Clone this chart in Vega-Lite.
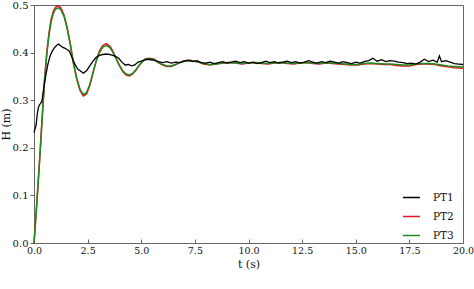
{
  "$schema": "https://vega.github.io/schema/vega-lite/v6.json",
  "autosize": "none",
  "width": 429,
  "height": 238,
  "padding": {"left": 34, "top": 5, "right": 11, "bottom": 46},
  "config": {
    "view": {"stroke": "#666666", "strokeWidth": 1},
    "font": "DejaVu Serif",
    "axis": {"labelFont": "DejaVu Serif", "titleFont": "DejaVu Serif", "labelFontSize": 10, "titleFontSize": 11, "titleFontWeight": "normal", "labelColor": "#111111", "titleColor": "#111111", "domainColor": "#666666", "tickColor": "#666666", "grid": false},
    "legend": {"labelFont": "DejaVu Serif", "labelFontSize": 10.5, "labelColor": "#111111"}
  },
  "datasets": {
    "pt1": [
      {"t":0,"h":0.232},{"t":0.05,"h":0.24},{"t":0.1,"h":0.248},{"t":0.15,"h":0.27},{"t":0.2,"h":0.284},{"t":0.25,"h":0.29},{"t":0.3,"h":0.293},{"t":0.37,"h":0.298},{"t":0.45,"h":0.325},{"t":0.55,"h":0.352},{"t":0.65,"h":0.376},{"t":0.75,"h":0.393},{"t":0.85,"h":0.403},{"t":0.95,"h":0.41},{"t":1.05,"h":0.415},{"t":1.15,"h":0.418},{"t":1.25,"h":0.414},{"t":1.35,"h":0.411},{"t":1.45,"h":0.409},{"t":1.55,"h":0.406},{"t":1.65,"h":0.403},{"t":1.75,"h":0.392},{"t":1.85,"h":0.381},{"t":1.95,"h":0.372},{"t":2.05,"h":0.365},{"t":2.15,"h":0.362},{"t":2.3,"h":0.357},{"t":2.45,"h":0.362},{"t":2.6,"h":0.372},{"t":2.75,"h":0.382},{"t":2.9,"h":0.39},{"t":3.05,"h":0.394},{"t":3.2,"h":0.396},{"t":3.4,"h":0.397},{"t":3.6,"h":0.395},{"t":3.8,"h":0.392},{"t":3.95,"h":0.388},{"t":4.1,"h":0.38},{"t":4.25,"h":0.374},{"t":4.4,"h":0.375},{"t":4.55,"h":0.372},{"t":4.7,"h":0.374},{"t":4.85,"h":0.38},{"t":5.0,"h":0.382},{"t":5.15,"h":0.384},{"t":5.3,"h":0.386},{"t":5.45,"h":0.385},{"t":5.6,"h":0.384},{"t":5.8,"h":0.381},
      {"t":6.0,"h":0.379},{"t":6.2,"h":0.381},{"t":6.4,"h":0.378},{"t":6.6,"h":0.38},{"t":6.8,"h":0.379},{"t":7.0,"h":0.382},{"t":7.2,"h":0.384},{"t":7.4,"h":0.381},{"t":7.6,"h":0.383},{"t":7.8,"h":0.379},{"t":8.0,"h":0.378},{"t":8.2,"h":0.38},{"t":8.4,"h":0.377},{"t":8.6,"h":0.379},{"t":8.8,"h":0.381},{"t":9.0,"h":0.378},{"t":9.2,"h":0.38},{"t":9.4,"h":0.382},{"t":9.6,"h":0.379},{"t":9.8,"h":0.381},{"t":10.0,"h":0.378},{"t":10.2,"h":0.38},{"t":10.4,"h":0.377},{"t":10.6,"h":0.379},{"t":10.8,"h":0.382},{"t":11.0,"h":0.379},{"t":11.2,"h":0.381},{"t":11.4,"h":0.378},{"t":11.6,"h":0.38},{"t":11.8,"h":0.382},{"t":12.0,"h":0.379},{"t":12.2,"h":0.381},{"t":12.4,"h":0.378},{"t":12.6,"h":0.38},{"t":12.8,"h":0.383},{"t":13.0,"h":0.38},{"t":13.2,"h":0.378},{"t":13.4,"h":0.381},{"t":13.6,"h":0.379},{"t":13.8,"h":0.382},{"t":14.0,"h":0.38},{"t":14.2,"h":0.378},{"t":14.4,"h":0.381},{"t":14.6,"h":0.379},{"t":14.8,"h":0.377},{"t":15.0,"h":0.38},{"t":15.2,"h":0.378},{"t":15.4,"h":0.381},{"t":15.6,"h":0.383},{"t":15.8,"h":0.388},{"t":16.0,"h":0.382},{"t":16.2,"h":0.385},{"t":16.4,"h":0.381},{"t":16.6,"h":0.383},{"t":16.8,"h":0.382},{"t":17.0,"h":0.38},{"t":17.2,"h":0.379},{"t":17.4,"h":0.377},{"t":17.6,"h":0.378},{"t":17.8,"h":0.376},{"t":18.0,"h":0.38},{"t":18.2,"h":0.386},{"t":18.4,"h":0.381},{"t":18.6,"h":0.384},{"t":18.8,"h":0.38},{"t":18.9,"h":0.393},{"t":19.0,"h":0.381},{"t":19.2,"h":0.383},{"t":19.4,"h":0.38},{"t":19.6,"h":0.377},{"t":19.8,"h":0.376},{"t":20.0,"h":0.375}
    ],
    "pt23": [
      {"t":0,"PT2":0,"PT3":0},{"t":0.1,"PT2":0.063,"PT3":0.062},{"t":0.2,"PT2":0.132,"PT3":0.13},{"t":0.3,"PT2":0.203,"PT3":0.2},{"t":0.4,"PT2":0.279,"PT3":0.275},{"t":0.5,"PT2":0.349,"PT3":0.345},{"t":0.6,"PT2":0.402,"PT3":0.398},{"t":0.7,"PT2":0.442,"PT3":0.437},{"t":0.8,"PT2":0.47,"PT3":0.465},{"t":0.9,"PT2":0.487,"PT3":0.482},{"t":1.0,"PT2":0.495,"PT3":0.491},{"t":1.13,"PT2":0.498,"PT3":0.494},{"t":1.25,"PT2":0.494,"PT3":0.49},{"t":1.4,"PT2":0.479,"PT3":0.476},{"t":1.55,"PT2":0.452,"PT3":0.45},{"t":1.7,"PT2":0.416,"PT3":0.415},{"t":1.85,"PT2":0.375,"PT3":0.375},{"t":2.0,"PT2":0.343,"PT3":0.345},{"t":2.15,"PT2":0.32,"PT3":0.322},{"t":2.3,"PT2":0.309,"PT3":0.312},{"t":2.45,"PT2":0.313,"PT3":0.316},{"t":2.6,"PT2":0.331,"PT3":0.333},{"t":2.75,"PT2":0.357,"PT3":0.358},{"t":2.9,"PT2":0.383,"PT3":0.382},{"t":3.05,"PT2":0.403,"PT3":0.4},{"t":3.2,"PT2":0.415,"PT3":0.411},{"t":3.37,"PT2":0.419,"PT3":0.415},{"t":3.55,"PT2":0.413,"PT3":0.41},{"t":3.7,"PT2":0.401,"PT3":0.399},{"t":3.85,"PT2":0.386,"PT3":0.385},{"t":4.0,"PT2":0.371,"PT3":0.372},{"t":4.15,"PT2":0.359,"PT3":0.361},{"t":4.3,"PT2":0.353,"PT3":0.355},{"t":4.45,"PT2":0.351,"PT3":0.353},{"t":4.6,"PT2":0.355,"PT3":0.356},{"t":4.75,"PT2":0.363,"PT3":0.364},{"t":4.9,"PT2":0.373,"PT3":0.373},{"t":5.05,"PT2":0.382,"PT3":0.381},{"t":5.2,"PT2":0.387,"PT3":0.386},{"t":5.4,"PT2":0.388,"PT3":0.387},{"t":5.6,"PT2":0.386,"PT3":0.385},{"t":5.8,"PT2":0.379,"PT3":0.379},{"t":6.0,"PT2":0.374,"PT3":0.375},{"t":6.2,"PT2":0.371,"PT3":0.372},{"t":6.4,"PT2":0.371,"PT3":0.372},{"t":6.6,"PT2":0.375,"PT3":0.375},{"t":6.8,"PT2":0.379,"PT3":0.379},{"t":7.0,"PT2":0.383,"PT3":0.382},{"t":7.3,"PT2":0.384,"PT3":0.383},{"t":7.6,"PT2":0.381,"PT3":0.381},{"t":7.9,"PT2":0.376,"PT3":0.377},{"t":8.2,"PT2":0.374,"PT3":0.375},{"t":8.5,"PT2":0.376,"PT3":0.376},{"t":8.8,"PT2":0.378,"PT3":0.378},{"t":9.1,"PT2":0.379,"PT3":0.379},{"t":9.4,"PT2":0.378,"PT3":0.378},{"t":9.7,"PT2":0.376,"PT3":0.377},{"t":10.0,"PT2":0.378,"PT3":0.378},{"t":10.3,"PT2":0.379,"PT3":0.379},{"t":10.6,"PT2":0.377,"PT3":0.378},{"t":10.9,"PT2":0.376,"PT3":0.377},{"t":11.2,"PT2":0.378,"PT3":0.378},{"t":11.5,"PT2":0.379,"PT3":0.379},{"t":11.8,"PT2":0.377,"PT3":0.378},{"t":12.1,"PT2":0.376,"PT3":0.377},{"t":12.4,"PT2":0.378,"PT3":0.378},{"t":12.7,"PT2":0.379,"PT3":0.379},{"t":13.0,"PT2":0.377,"PT3":0.378},{"t":13.3,"PT2":0.376,"PT3":0.377},{"t":13.6,"PT2":0.378,"PT3":0.378},{"t":13.9,"PT2":0.377,"PT3":0.378},{"t":14.2,"PT2":0.376,"PT3":0.377},{"t":14.5,"PT2":0.375,"PT3":0.376},{"t":14.8,"PT2":0.374,"PT3":0.375},{"t":15.1,"PT2":0.374,"PT3":0.375},{"t":15.4,"PT2":0.376,"PT3":0.377},{"t":15.7,"PT2":0.377,"PT3":0.378},{"t":16.0,"PT2":0.376,"PT3":0.377},{"t":16.3,"PT2":0.375,"PT3":0.376},{"t":16.6,"PT2":0.375,"PT3":0.376},{"t":16.9,"PT2":0.373,"PT3":0.375},{"t":17.2,"PT2":0.372,"PT3":0.374},{"t":17.5,"PT2":0.372,"PT3":0.374},{"t":17.8,"PT2":0.375,"PT3":0.376},{"t":18.1,"PT2":0.376,"PT3":0.377},{"t":18.4,"PT2":0.376,"PT3":0.377},{"t":18.7,"PT2":0.375,"PT3":0.376},{"t":19.0,"PT2":0.372,"PT3":0.374},{"t":19.3,"PT2":0.37,"PT3":0.372},{"t":19.6,"PT2":0.368,"PT3":0.371},{"t":20.0,"PT2":0.367,"PT3":0.37}
    ]
  },
  "encoding": {
    "x": {"field": "t", "type": "quantitative", "scale": {"domain": [0, 20], "nice": false},
      "axis": {"title": "t (s)", "values": [0, 2.5, 5, 7.5, 10, 12.5, 15, 17.5, 20], "format": ".1f", "tickSize": -4, "labelPadding": 6, "titlePadding": 4, "labelFlush": false, "labelFontSize": 9.5}},
    "y": {"field": "h", "type": "quantitative", "scale": {"domain": [0, 0.5], "nice": false},
      "axis": {"title": "H (m)", "values": [0, 0.1, 0.2, 0.3, 0.4, 0.5], "format": ".1f", "tickSize": 4, "labelPadding": 2, "titlePadding": 1, "labelFlush": false}},
    "color": {"field": "s", "type": "nominal",
      "scale": {"domain": ["PT1", "PT2", "PT3"], "range": ["#000000", "#e8141e", "#1f8a1f"]},
      "legend": {"title": null, "orient": "none", "legendX": 368, "legendY": 183, "symbolType": "stroke", "symbolSize": 289, "symbolStrokeWidth": 1.5, "rowPadding": 4, "labelOffset": 12, "padding": 0}}
  },
  "layer": [
    {
      "data": {"name": "pt23"},
      "transform": [{"fold": ["PT2", "PT3"], "as": ["s", "h"]}],
      "mark": {"type": "line", "strokeWidth": 1.5}
    },
    {
      "data": {"name": "pt1"},
      "transform": [{"calculate": "'PT1'", "as": "s"}],
      "mark": {"type": "line", "strokeWidth": 1.3}
    }
  ]
}
